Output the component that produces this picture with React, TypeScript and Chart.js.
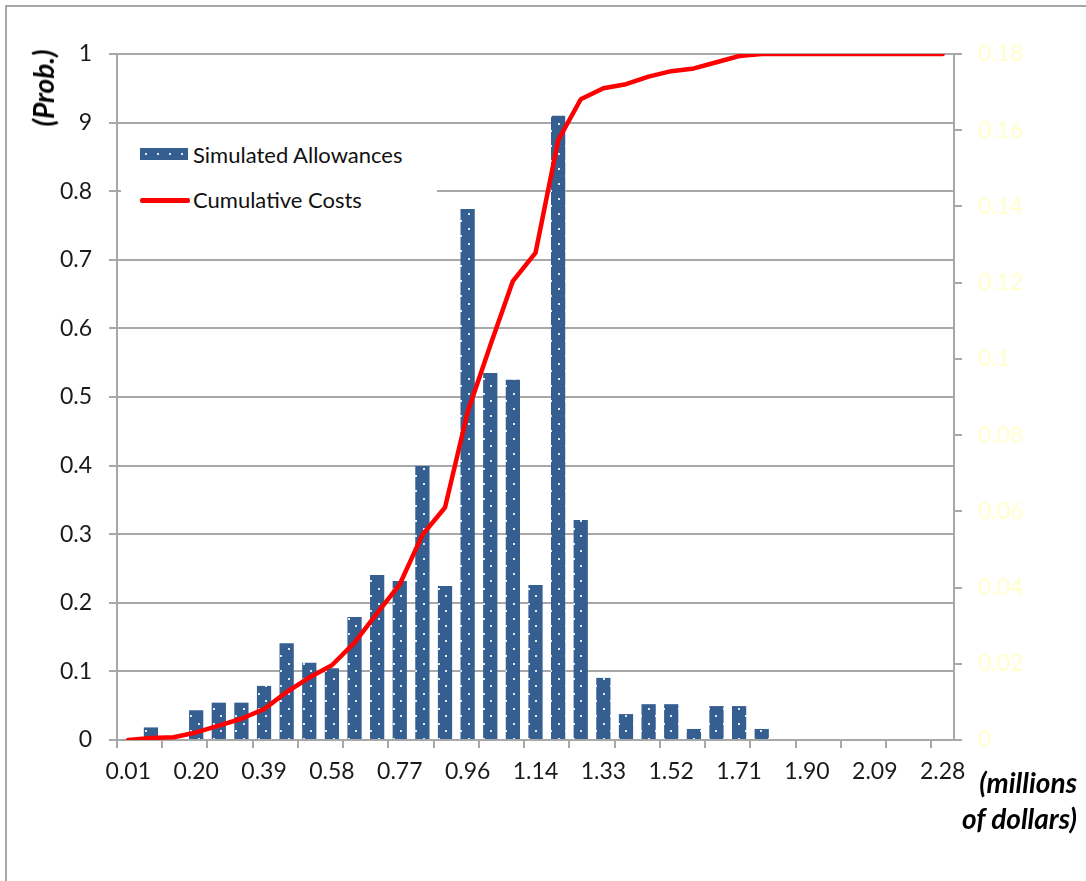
import React, { useEffect, useRef } from 'react';
import { Chart, registerables } from 'chart.js';

Chart.register(...registerables);

// Category (bin) labels in millions of dollars
const categories = [
  '0.01', '0.07', '0.14', '0.20', '0.26', '0.33', '0.39', '0.45', '0.51', '0.58',
  '0.64', '0.70', '0.77', '0.83', '0.89', '0.96', '1.02', '1.08', '1.14', '1.21',
  '1.27', '1.33', '1.40', '1.46', '1.52', '1.59', '1.65', '1.71', '1.78', '1.84',
  '1.90', '1.97', '2.03', '2.09', '2.15', '2.22', '2.28',
];

// Simulated Allowances (probability per bin, right axis)
const allowanceProb = [
  0, 0.0033, 0, 0.0078, 0.0098, 0.0098, 0.0142, 0.0254, 0.0203, 0.0188,
  0.0323, 0.0433, 0.0417, 0.0719, 0.0404, 0.1393, 0.0963, 0.0945, 0.0407, 0.1638,
  0.0577, 0.0163, 0.0068, 0.0094, 0.0094, 0.0029, 0.0089, 0.0089, 0.0029, 0,
  0, 0, 0, 0, 0, 0, 0,
];

// Cumulative Costs (left axis)
const cumulativeCost = [
  0, 0.003, 0.004, 0.011, 0.021, 0.031, 0.045, 0.070, 0.091, 0.109,
  0.142, 0.185, 0.227, 0.299, 0.339, 0.478, 0.575, 0.669, 0.710, 0.874,
  0.934, 0.950, 0.956, 0.967, 0.975, 0.979, 0.988, 0.997, 1.0, 1.0,
  1.0, 1.0, 1.0, 1.0, 1.0, 1.0, 1.0,
];

// Left axis tick labels (as printed in the source)
const leftTickLabels = ['0', '0.1', '0.2', '0.3', '0.4', '0.5', '0.6', '0.7', '0.8', '9', '1'];

// Right axis tick labels
const rightTickLabels = ['0', '0.02', '0.04', '0.06', '0.08', '0.1', '0.12', '0.14', '0.16', '0.18'];

const GRID = '#A8A8A8';
const BAR = '#365F91';
const FONT = 'Lato';

function makePattern(): CanvasPattern | string {
  const c = document.createElement('canvas');
  c.width = 15;
  c.height = 15;
  const ctx = c.getContext('2d');
  if (!ctx) return BAR;
  ctx.fillStyle = BAR;
  ctx.fillRect(0, 0, 15, 15);
  ctx.fillStyle = '#E4EAF3';
  ctx.fillRect(3, 3, 2, 2);
  ctx.fillRect(10, 10, 2, 2);
  return ctx.createPattern(c, 'repeat') || BAR;
}

export default function App() {
  const ref = useRef<HTMLCanvasElement>(null);

  useEffect(() => {
    const canvas = ref.current;
    if (!canvas) return;
    const pattern = makePattern();
    const tickFont = { family: FONT, size: 23 };
    const chart = new Chart(canvas, {
      type: 'bar',
      data: {
        labels: categories,
        datasets: [
          {
            type: 'line',
            label: 'Cumulative Costs',
            data: cumulativeCost,
            yAxisID: 'y',
            borderColor: '#FF0000',
            backgroundColor: '#FF0000',
            borderWidth: 4.5,
            pointRadius: 0,
            tension: 0,
            fill: false,
            order: 0,
            borderJoinStyle: 'round',
            borderCapStyle: 'round',
          } as any,
          {
            type: 'bar',
            label: 'Simulated Allowances',
            data: allowanceProb,
            yAxisID: 'y2',
            backgroundColor: pattern as any,
            borderWidth: 0,
            barPercentage: 0.63,
            categoryPercentage: 1,
            order: 1,
          } as any,
        ],
      },
      options: {
        animation: false,
        responsive: false,
        maintainAspectRatio: false,
        devicePixelRatio: 1,
        layout: { padding: { top: 54, left: 0, right: 0, bottom: 0 } },
        plugins: {
          legend: { display: false },
          tooltip: { enabled: false },
          title: { display: false },
        },
        scales: {
          x: {
            type: 'category',
            offset: true,
            grid: {
              display: true,
              offset: true,
              drawOnChartArea: false,
              drawTicks: true,
              tickLength: 8,
              lineWidth: 2,
              color: (ctx: any) =>
                ctx.index !== undefined && ctx.index % 2 === 0 ? GRID : 'rgba(0,0,0,0)',
            },
            border: { display: true, color: GRID, width: 2 },
            ticks: {
              autoSkip: false,
              maxRotation: 0,
              minRotation: 0,
              padding: 10,
              color: '#1a1a1a',
              font: tickFont,
              callback: (_v: any, i: number) => (i % 3 === 0 ? categories[i] : ''),
            },
            afterFit: (s: any) => {
              s.height = 141;
            },
          },
          y: {
            position: 'left',
            min: 0,
            max: 1,
            grid: { color: GRID, lineWidth: 2, tickLength: 8, drawTicks: true },
            border: { display: true, color: GRID, width: 2 },
            ticks: {
              stepSize: 0.1,
              padding: 17,
              color: '#1a1a1a',
              font: tickFont,
              callback: (_v: any, i: number) => leftTickLabels[i],
            },
            afterFit: (s: any) => {
              s.width = 117;
            },
          },
          y2: {
            position: 'right',
            min: 0,
            max: 0.18,
            grid: { drawOnChartArea: false, color: GRID, lineWidth: 2, tickLength: 8, drawTicks: true },
            border: { display: true, color: GRID, width: 2 },
            ticks: {
              stepSize: 0.02,
              padding: 16,
              color: '#FFFFCC',
              font: tickFont,
              callback: (_v: any, i: number) => rightTickLabels[i],
            },
            afterFit: (s: any) => {
              s.width = 132;
            },
          },
        },
      } as any,
    });
    return () => chart.destroy();
  }, []);

  const titleFont: React.CSSProperties = {
    fontFamily: FONT,
    fontWeight: 700,
    fontStyle: 'italic',
    fontSize: 28,
    color: '#000',
    whiteSpace: 'nowrap',
  };

  return (
    <div
      style={{
        position: 'absolute',
        left: 0,
        top: 0,
        width: 1086,
        height: 881,
        overflow: 'hidden',
        background: '#fff',
      }}
    >
      <div
        style={{
          position: 'absolute',
          left: 5,
          top: 5,
          width: 1300,
          height: 1000,
          borderTop: '2px solid #A6A6A6',
          borderLeft: '2px solid #A6A6A6',
        }}
      />
      <canvas
        ref={ref}
        width={1086}
        height={881}
        style={{ position: 'absolute', left: 0, top: 0, width: 1086, height: 881, display: 'block' }}
      />
      {/* Legend */}
      <div
        style={{
          position: 'absolute',
          left: 121,
          top: 130,
          width: 316,
          height: 88,
          background: '#fff',
          fontFamily: FONT,
          fontSize: 22,
          color: '#111',
        }}
      >
        <div
          style={{
            position: 'absolute',
            left: 19,
            top: 18,
            width: 48,
            height: 12,
            backgroundColor: BAR,
            backgroundImage:
              'radial-gradient(circle, rgba(235,240,248,0.95) 0 1px, rgba(0,0,0,0) 1.5px)',
            backgroundSize: '12px 12px',
          }}
        />
        <div style={{ position: 'absolute', left: 72, top: 11, lineHeight: '28px', whiteSpace: 'nowrap' }}>
          Simulated Allowances
        </div>
        <div
          style={{
            position: 'absolute',
            left: 19,
            top: 68,
            width: 50,
            height: 5,
            background: '#FF0000',
            borderRadius: 2,
          }}
        />
        <div style={{ position: 'absolute', left: 72, top: 56, lineHeight: '28px', whiteSpace: 'nowrap' }}>
          Cumulative Costs
        </div>
      </div>
      {/* Y axis title */}
      <div
        style={{
          ...titleFont,
          position: 'absolute',
          left: 43,
          top: 88,
          transform: 'translate(-50%, -50%) rotate(-90deg)',
          lineHeight: '32px',
        }}
      >
        (Prob.)
      </div>
      {/* X axis title */}
      <div
        style={{
          ...titleFont,
          position: 'absolute',
          left: 930,
          top: 764,
          width: 147,
          textAlign: 'right',
          lineHeight: '36px',
        }}
      >
        <div>(millions</div>
        <div>of dollars)</div>
      </div>
    </div>
  );
}
